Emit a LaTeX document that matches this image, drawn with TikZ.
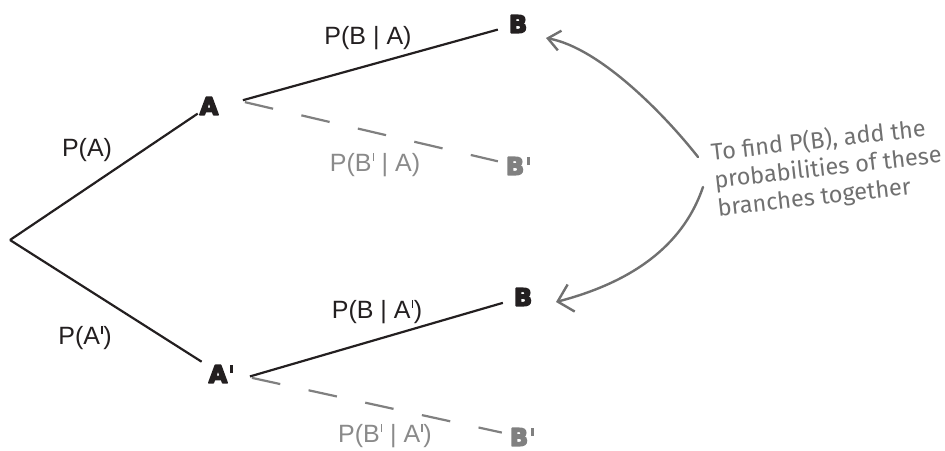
\documentclass[tikz,border=0pt]{standalone}
\usepackage{fontspec}
\setmainfont{Liberation Sans}
\newfontfamily\heavyfont{DejaVu Sans Bold}
\newfontfamily\handfont{Fira Sans}
\usetikzlibrary{calc,arrows.meta}
\definecolor{ink}{HTML}{231F20}
\definecolor{greyline}{HTML}{808080}
\definecolor{greytext}{HTML}{8A8A8A}
\definecolor{notegrey}{HTML}{707070}
\newcommand\pbar{\kern0.04em\rule[0.42em]{0.06em}{0.3em}\kern0.03em}
\newcommand\heavybar{\kern0.1em\rule[0.4em]{0.15em}{0.33em}}
\newcommand\thick[1]{\special{pdf:literal direct 2 Tr 1.6 w 1 j}#1\special{pdf:literal direct 0 Tr}}
\begin{document}
\begin{tikzpicture}[x=1pt,y=-1pt,
  lab/.style={inner sep=0pt,text=ink,font=\fontsize{25}{28}\selectfont},
  glab/.style={lab,text=greytext},
  anode/.style={inner sep=0pt,outer sep=2pt,text=ink,font=\heavyfont\fontsize{24}{28}\selectfont},
  bnode/.style={anode,outer sep=11pt},
  bpnode/.style={anode,outer sep=8pt,text=greyline},
  solidbranch/.style={draw=ink,line width=2.2pt},
  dashbranch/.style={draw=greyline,line width=2.2pt,dash pattern=on 29pt off 29pt},
  note/.style={draw=notegrey,line width=2.4pt,line cap=round,line join=round},
  notetext/.style={text=notegrey,font=\handfont\fontsize{23.5}{28}\selectfont,align=left,inner sep=0pt,rotate=6.5}]
\useasboundingbox (0,0) rectangle (945,450);

% nodes
\coordinate (root) at (10,240);
\node[anode] (A) at (209,106) {\thick{A}};
\node[anode] (A2) at (221,374) {\thick{A}\heavybar};
\node[bnode] (B1) at (518,24) {\thick{B}};
\node[bpnode] (Bp1) at (518,166) {\thick{B}\heavybar};
\node[bnode] (B2) at (523,297) {\thick{B}};
\node[bpnode] (Bp2) at (522,437) {\thick{B}\heavybar};

\coordinate (Aj) at ($(A)+(31,-5)$);
\coordinate (A2j) at ($(A2)+(27,3)$);

% branches
\draw[solidbranch] (root) -- (A);
\draw[solidbranch,shorten >=6pt] (root) -- (A2);
\draw[solidbranch,shorten <=3pt] (Aj) -- (B1);
\draw[dashbranch,shorten <=5pt] (Aj) -- (Bp1);
\draw[solidbranch,shorten <=2pt] (A2j) -- (B2);
\draw[dashbranch,shorten <=4pt] (A2j) -- (Bp2);

% labels
\node[lab] (pa) at (87,150) {P(A)};
\node[lab] (pa2) at (85,338) {P(A\pbar)};
\node[lab] (pba) at (368,38) {P(B | A)};
\node[glab] (pbpa) at (375,165) {P(B\pbar{} | A)};
\node[lab] (pba2) at (377,312) {P(B | A\pbar)};
\node[glab] (pbpa2) at (385,436) {P(B\pbar{} | A\pbar)};

% annotation
\node[notetext] (ann) at (828,168) {To find P(B), add the\\probabilities of these\\branches together};
\coordinate (s1) at (698,157);
\coordinate (s2) at (703,187);
\coordinate (t1) at ($(B1)+(28,14)$);
\coordinate (t2) at ($(B2)+(33,5)$);
\draw[note,-{Straight Barb[length=12pt,width=20pt]}] (s1) .. controls (665,115) and (600,48) .. (t1);
\draw[note,-{Straight Barb[length=14pt,width=28pt]}] (s2) .. controls (685,240) and (640,280) .. (t2);
\end{tikzpicture}
\end{document}
